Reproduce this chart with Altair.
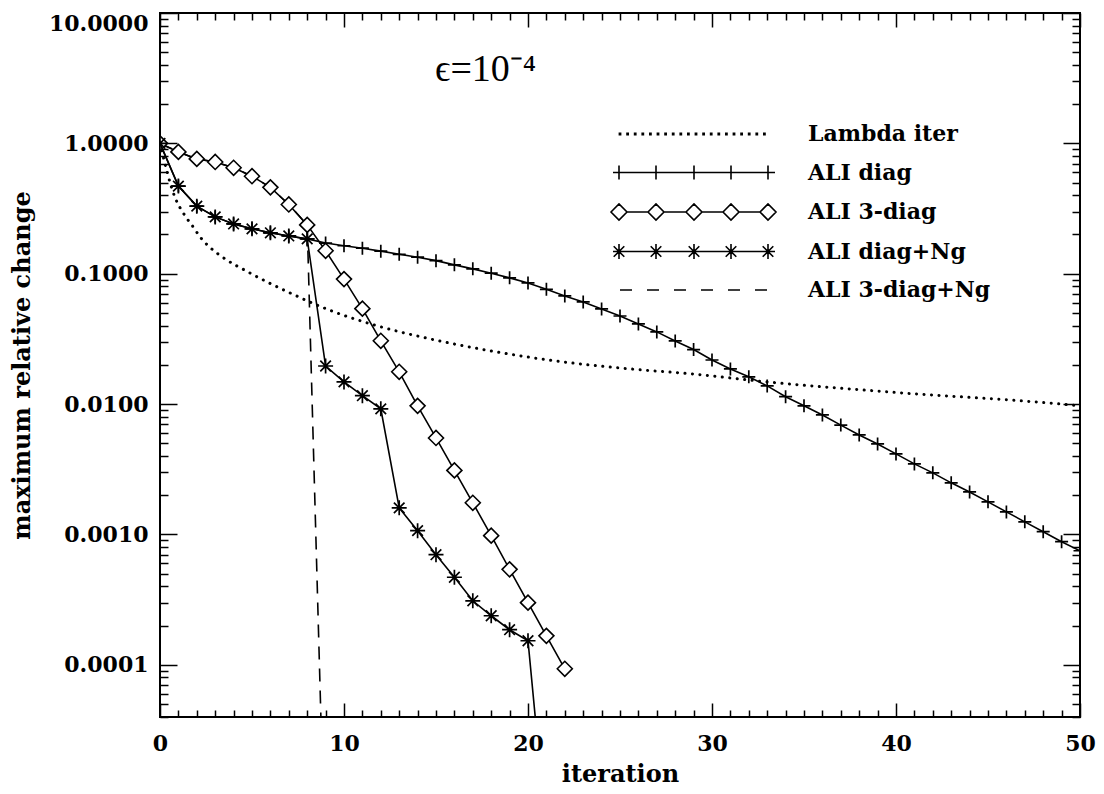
import altair as alt
import pandas as pd

# ---------------- data ----------------
series_names = ["Lambda iter", "ALI diag", "ALI 3-diag", "ALI diag+Ng", "ALI 3-diag+Ng"]

lambda_iter = [0, 0.8, 1.35, 1.8, 2.2, 2.7, 3.3, 4.8, 7.0, 9.3, 11.5, 14.7, 18.4,
               22, 25.6, 29, 33, 39.6, 49, 50]
lambda_change = [1.0, 0.39, 0.28, 0.229, 0.19, 0.16, 0.137, 0.103, 0.072, 0.052, 0.041,
                 0.0316, 0.025, 0.021, 0.0186, 0.017, 0.0148, 0.0124, 0.0100, 0.0097]

diag_change = [1.0, 0.47, 0.33, 0.273, 0.241, 0.221, 0.206, 0.195, 0.185, 0.172,
               0.164, 0.157, 0.149, 0.141, 0.134, 0.126, 0.117, 0.109, 0.101, 0.093,
               0.085, 0.076, 0.0676, 0.0608, 0.0537, 0.0474, 0.0412, 0.0358, 0.0305, 0.0262,
               0.0218, 0.0186, 0.0162, 0.0138, 0.0114, 0.0097, 0.00826, 0.0069, 0.0058, 0.00495,
               0.00415, 0.00348, 0.00297, 0.00249, 0.00212, 0.00178, 0.00149, 0.00125, 0.00105,
               0.00088, 0.00075]

tri_change = [1.0, 0.86, 0.76, 0.72, 0.65, 0.56, 0.46, 0.34, 0.237, 0.15, 0.091, 0.054,
              0.0306, 0.0177, 0.0097, 0.0055, 0.0031, 0.00175, 0.00098, 0.00054, 0.0003,
              0.000167, 0.0000933]

diag_ng_change = [1.0, 0.47, 0.33, 0.273, 0.241, 0.221, 0.206, 0.195, 0.185, 0.0196,
                  0.0148, 0.0116, 0.0092, 0.0016, 0.00107, 0.0007, 0.00047, 0.00031,
                  0.000238, 0.000186, 0.000153, 0.000005]

tri_ng_change = [1.0, 0.86, 0.76, 0.72, 0.65, 0.56, 0.46, 0.34, 0.237, 0.000002]

x_label_values = [0, 10, 20, 30, 40, 50]
x_minor_values = [v for v in range(1, 50) if v % 10 != 0]
y_major_values = [1e-4, 1e-3, 1e-2, 1e-1, 1.0, 10.0]
y_minor_values = [m * 1e-5 for m in range(4, 10)] + [m * 10.0 ** d for d in range(-4, 1) for m in range(2, 10)]

# ---------------- table ----------------
rows = []
for x, y in zip(lambda_iter, lambda_change):
    rows.append({"series": "Lambda iter", "iteration": x, "change": y})
for name, vals in [("ALI diag", diag_change), ("ALI 3-diag", tri_change),
                   ("ALI diag+Ng", diag_ng_change), ("ALI 3-diag+Ng", tri_ng_change)]:
    for i, y in enumerate(vals):
        rows.append({"series": name, "iteration": i, "change": y})
df = pd.DataFrame(rows)

W, H = 920, 704
FONT = "DejaVu Serif"

xs = alt.Scale(domain=[0, 50], nice=False, zero=False)
ys = alt.Scale(type="log", domain=[10 ** -4.4, 10], nice=False)

base = alt.Chart(df)


def sel(name):
    return base.transform_filter(alt.datum.series == name)


label_x_axis = alt.Axis(orient="bottom", values=x_label_values, format="d", ticks=False,
                        domain=False, grid=False, labelFont=FONT, labelFontSize=22,
                        labelFontWeight="bold", labelColor="black", labelPadding=16,
                        labelFlush=False, labelOverlap=False, title="iteration",
                        titleFont=FONT, titleFontSize=24, titleFontWeight="bold",
                        titleColor="black", titlePadding=8)
label_y_axis = alt.Axis(orient="left", values=y_major_values, format=".4f", ticks=False,
                        domain=False, grid=False, labelFont=FONT, labelFontSize=22,
                        labelFontWeight="bold", labelColor="black", labelPadding=12,
                        labelBaseline={"condition": {"test": "datum.value >= 5", "value": "top"},
                                       "value": "middle"},
                        labelFlush=False, labelOverlap=False, title="maximum relative change",
                        titleFont=FONT, titleFontSize=24, titleFontWeight="bold",
                        titleColor="black", titlePadding=14)

lam = sel("Lambda iter").mark_line(color="black", strokeWidth=3, strokeDash=[0.1, 7.4],
                                   strokeCap="round", clip=True, interpolate="monotone").encode(
    x=alt.X("iteration:Q", scale=xs, axis=label_x_axis),
    y=alt.Y("change:Q", scale=ys, axis=label_y_axis),
)


def enc(chart):
    return chart.encode(
        x=alt.X("iteration:Q", scale=xs, axis=None),
        y=alt.Y("change:Q", scale=ys, axis=None),
    )


PLUS = "M-1,0L1,0M0,-1L0,1"
STAR = "M-1,0L1,0M0,-1L0,1M-0.707,-0.707L0.707,0.707M-0.707,0.707L0.707,-0.707"

diag_line = enc(sel("ALI diag").mark_line(color="black", strokeWidth=1.6, clip=True))
diag_pts = enc(sel("ALI diag").mark_point(shape=PLUS, size=169, filled=False, color="black",
                                          strokeWidth=1.7, opacity=1, clip=True))
tri_line = enc(sel("ALI 3-diag").mark_line(color="black", strokeWidth=1.6, clip=True))
tri_pts = enc(sel("ALI 3-diag").mark_point(shape="diamond", size=225, filled=True, fill="white",
                                           stroke="black", strokeWidth=1.6, opacity=1, clip=True))
ng_line = enc(sel("ALI diag+Ng").mark_line(color="black", strokeWidth=1.6, clip=True))
ng_pts = enc(sel("ALI diag+Ng").mark_point(shape=STAR, size=225, filled=False, color="black",
                                           strokeWidth=1.7, opacity=1, clip=True))
tng_line = enc(sel("ALI 3-diag+Ng").mark_line(color="black", strokeWidth=1.6, strokeDash=[13, 9],
                                              clip=True))


def tick_layer(x_orient, y_orient, xvals, yvals, xsize, ysize):
    return base.transform_filter("false").mark_point(opacity=0).encode(
        x=alt.X("iteration:Q", scale=xs,
                axis=alt.Axis(orient=x_orient, offset=-H, values=xvals, labels=False,
                              domain=False, grid=False, ticks=True, tickSize=xsize,
                              tickWidth=1.5, tickColor="black", title=None)),
        y=alt.Y("change:Q", scale=ys,
                axis=alt.Axis(orient=y_orient, offset=-W, values=yvals, labels=False,
                              domain=False, grid=False, ticks=True, tickSize=ysize,
                              tickWidth=1.5, tickColor="black", title=None)),
    )


t1 = tick_layer("top", "right", x_minor_values, y_minor_values, 7, 8)
t2 = tick_layer("bottom", "left", x_minor_values, y_minor_values, 7, 8)
t3 = tick_layer("top", "right", x_label_values, y_major_values, 14, 17)
t4 = tick_layer("bottom", "left", x_label_values, y_major_values, 14, 17)

# legend sample paths (pixel units, symbol size 4 -> scale 1)
pos = [6, 43, 81, 118, 155]
dots = "".join(f"M{x - 0.6},-0.6h1.2v1.2h-1.2Z" for x in [7 + 7.6 * k for k in range(20)])
plus_path = "M0,0L162,0" + "".join(f"M{c},-7L{c},7" for c in pos)
dia_path = "".join(f"M{c - 8},0L{c},-8L{c + 8},0L{c},8Z" for c in pos) + \
    "".join(f"M{a + 8},0L{b - 8},0" for a, b in zip(pos[:-1], pos[1:]))
star_path = "M0,0L162,0" + "".join(
    f"M{c},-7.5L{c},7.5M{c - 5.3},-5.3L{c + 5.3},5.3M{c - 5.3},5.3L{c + 5.3},-5.3" for c in pos)
dash_path = "".join(f"M{s},0L{s + 12},0" for s in [7 + 27 * k for k in range(6)])
legend_paths = [dots, plus_path, dia_path, star_path, dash_path]

legend_layer = base.transform_filter("false").mark_point(filled=False, color="black").encode(
    shape=alt.Shape("series:N", scale=alt.Scale(domain=series_names, range=legend_paths),
                    legend=alt.Legend(orient="none", legendX=442, legendY=110, title=None,
                                      padding=0, symbolSize=4, symbolStrokeWidth=1.6,
                                      symbolStrokeColor="black", symbolFillColor="transparent",
                                      symbolOpacity=1, labelFont=FONT, labelFontSize=22,
                                      labelFontWeight="bold", labelColor="black",
                                      labelOffset=184, labelLimit=400, rowPadding=16.5)),
)

chart = alt.layer(
    lam, diag_line, diag_pts, tri_line, tng_line, tri_pts, ng_line, ng_pts,
    t1, t2, t3, t4, legend_layer,
).resolve_axis(x="independent", y="independent").properties(
    width=W, height=H,
    title=alt.TitleParams(text="ϵ=10⁻⁴", font="Liberation Serif", fontSize=38,
                          fontWeight="normal", color="black", anchor="start", frame="group",
                          baseline="alphabetic", offset=0, dx=275, dy=107),
    autosize=alt.AutoSizeParams(type="none"),
    padding={"left": 152, "top": 5, "right": 16, "bottom": 71},
).configure_view(stroke="black", strokeWidth=2)

chart.save("out.html", embed_options={"renderer": "svg", "actions": False})
